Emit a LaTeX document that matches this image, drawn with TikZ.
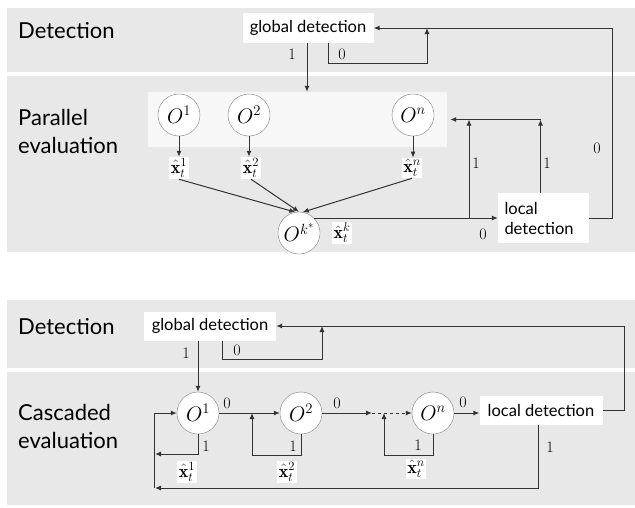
\documentclass[tikz,border=0pt]{standalone}
\usepackage{amsmath}
\usepackage{fix-cm}
\usepackage{fontspec}
\newfontfamily\gillfont{Lato}
\usepackage{tikz}
\usetikzlibrary{arrows.meta,positioning,calc}
\definecolor{bandgray}{HTML}{E8E8E8}
\definecolor{plategray}{HTML}{F7F7F7}
\definecolor{inkgray}{HTML}{333333}

\tikzset{
  band/.style={fill=bandgray, draw=none},
  lbl/.style={anchor=west, align=left, inner sep=0pt, font=\gillfont\fontsize{22}{28}\selectfont},
  detbox/.style={fill=white, inner sep=2pt, font=\gillfont\fontsize{16.5}{20}\selectfont},
  obj/.style={circle, draw=gray, fill=white, minimum size=42pt, inner sep=0pt, font=\fontsize{21}{24}\selectfont},
  est/.style={fill=white, inner sep=1.5pt, font=\fontsize{18}{20}\selectfont},
  num/.style={font=\fontsize{16}{18}\selectfont, inner sep=0pt},
  arr/.style={-{Latex[length=6pt,width=5pt]}, draw=inkgray, line width=1pt}
}

\begin{document}
\begin{tikzpicture}[x=1pt, y=-1pt]
\useasboundingbox (0,0) rectangle (635,507);

% upper panel: parallel evaluation
\fill[band] (7,8) rectangle (635,72);
\fill[band] (7,76) rectangle (635,252);
\node[fill=plategray, minimum width=299pt, minimum height=55pt, inner sep=0pt] (plate) at (297.5,119.5) {};

\node[lbl] (det1) at (18,31) {Detection};
\node[lbl] (par) at (18,131) {Parallel\\evaluation};

\node[detbox, minimum width=131pt, minimum height=30pt] (glob1) at (308,28) {global detection};
\node[obj] (o1) at (179,115) {$O^1$};
\node[obj] (o2) at (249,115) {$O^2$};
\node[obj] (on) at (413,115) {$O^n$};
\node[est] (x1) at (179,168) {$\hat{\mathbf{x}}_t^1$};
\node[est] (x2) at (251,168) {$\hat{\mathbf{x}}_t^2$};
\node[est] (xn) at (412,168) {$\hat{\mathbf{x}}_t^n$};
\node[obj] (ok) at (299,233) {$O^{k^*}$};
\node[est] (xk) at (342,233) {$\hat{\mathbf{x}}_t^k$};
\node[detbox, minimum width=91pt, minimum height=50pt, align=left, text width=78pt] (loc1) at (543.5,218) {local\\detection};

\coordinate (g1) at (427,63);
\coordinate (j1) at (469,218);

\draw[arr] (glob1.south -| 307,0) -- (307,0 |- plate.north);
\draw[arr] ([xshift=20pt]glob1.south) |- (g1) -- (g1 |- glob1.east);
\draw[arr] (loc1.east) -- ++(23,0) |- (glob1.east);
\foreach \o/\x in {o1/x1, o2/x2, on/xn}
  \draw[arr] (\o.south) -- (\o.south |- \x.north);
\draw[arr] (x1.south) -- (ok.100);
\draw[arr] (x2.south) -- (ok.north);
\draw[arr] (xn.south) -- (ok.80);
\draw[arr] (ok.45) -- (ok.45 -| loc1.west);
\draw[arr] (j1) -- (j1 |- plate.east);
\draw[arr] ([xshift=-3pt]loc1.north) -- ([xshift=-3pt]loc1.north |- plate.east);
\draw[arr] ([xshift=-3pt]loc1.north |- plate.east) -- ([xshift=3pt]plate.east);

\node[num] at (292,54) {1};
\node[num] at (342,54) {0};
\node[num] at (597,148) {0};
\node[num] at (476,163) {1};
\node[num] at (547,163) {1};
\node[num] at (483,234) {0};

% lower panel: cascaded evaluation
\fill[band] (7,300) rectangle (635,368);
\fill[band] (7,372) rectangle (635,505);

\node[lbl] (det2) at (18,327) {Detection};
\node[lbl] (cas) at (18,426) {Cascaded\\evaluation};

\node[detbox, minimum width=132pt, minimum height=29pt] (glob2) at (210,326) {global detection};
\node[obj] (c1) at (198,413) {$O^1$};
\node[obj] (c2) at (301,413) {$O^2$};
\node[obj] (cn) at (433,413) {$O^n$};
\node[detbox, minimum width=123pt, minimum height=29pt] (loc2) at (541,410) {local detection};
\node[est] (y1) at (187,472) {$\hat{\mathbf{x}}_t^1$};
\node[est] (y2) at (287,472) {$\hat{\mathbf{x}}_t^2$};
\node[est] (yn) at (416,469) {$\hat{\mathbf{x}}_t^n$};

\coordinate (g2) at (322,359);
\coordinate (d1) at (372,413);
\coordinate (b1) at (154,488);
\coordinate (r1) at (154,454);
\coordinate (r2) at (252,455);
\coordinate (rn) at (384,455);

\draw[arr] (glob2.south -| c1) -- (c1.north);
\draw[arr] ([xshift=12pt]glob2.south) |- (g2) -- (g2 |- glob2.east);
\draw[arr] (loc2.east) -- ++(22,0) |- (glob2.east);
\draw[arr] (c1.east) -- (c2.west);
\draw[arr] (c2.east) -- (d1);
\draw[arr, dashed] (d1) -- (cn.west);
\draw[arr] (cn.east) -- (cn.east -| loc2.west);
\draw[arr] (c1.south) |- ([xshift=1pt]r1);
\draw[arr] (c2.south) |- (r2) -- (r2 |- c2.east);
\draw[arr] (cn.south) |- (rn) -- (rn |- cn.west);
\draw[arr] ([xshift=-3pt]loc2.south) |- ([xshift=1pt]b1);
\draw[arr] (b1) |- (c1.west);

\node[num] at (186,353) {1};
\node[num] at (237,350) {0};
\node[num] at (227,403) {0};
\node[num] at (337,403) {0};
\node[num] at (463,402) {0};
\node[num] at (206,446) {1};
\node[num] at (293,446) {1};
\node[num] at (418,445) {1};
\node[num] at (550,447) {1};
\end{tikzpicture}
\end{document}
